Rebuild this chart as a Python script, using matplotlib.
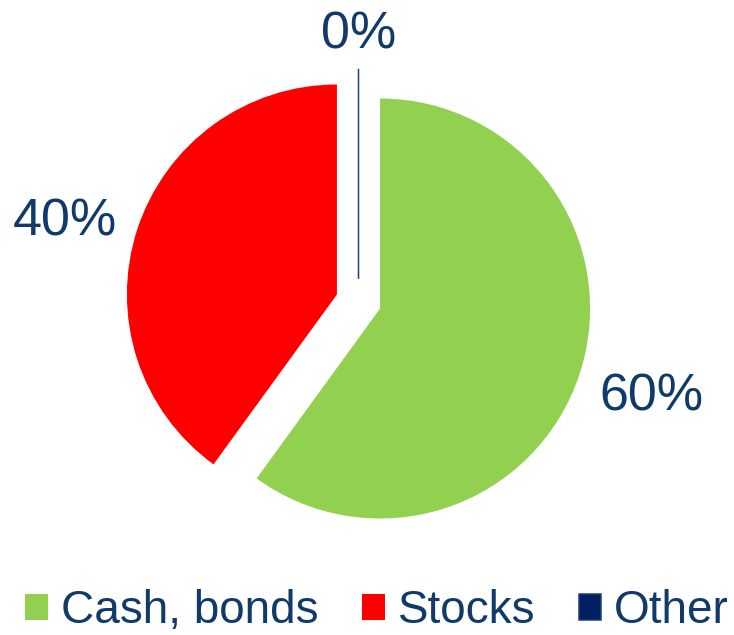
import numpy as np
import matplotlib.pyplot as plt

plt.rcParams['font.family'] = ['Liberation Sans', 'DejaVu Sans']

# data
categories = ['Cash, bonds', 'Stocks', 'Other']
shares = [60, 40, 0]
colors = ['#92D050', '#FF0000', '#002060']
label_color = '#0F3A6A'

W, H = 734, 635
fig = plt.figure(figsize=(W / 100, H / 100), dpi=100)
ax = fig.add_axes([0, 0, 1, 1])

wedges, texts, autotexts = ax.pie(
    shares, colors=colors, startangle=90, counterclock=False,
    explode=[0.108] * 3, autopct='%.0f%%', pctdistance=1.36,
    wedgeprops=dict(linewidth=0),
    textprops=dict(color=label_color, fontsize=37.5))

# the 0% slice shows only as a thin line
wedges[2].set_edgecolor('#1F3F80')
wedges[2].set_linewidth(1.1)

# label placement tweaks (distance, angle offset in degrees)
tweaks = [(1.36, 0.0), (1.34, 3.0), (1.16, 0.0)]
for w, t, (d, da) in zip(wedges, autotexts, tweaks):
    cx, cy = w.center
    ang = np.deg2rad((w.theta1 + w.theta2) / 2 + da)
    t.set_position((cx + d * np.cos(ang), cy + d * np.sin(ang)))

# pixel-matched limits: centre at (358.5, 301.5), radius 210 px
r = 210.0
ax.set_aspect('auto')
ax.set_xlim(-358.5 / r, (W - 358.5) / r)
ax.set_ylim(-(H - 301.5) / r, 301.5 / r)
ax.axis('off')

fig.legend(wedges, categories, loc='center', bbox_to_anchor=(377 / W, 24 / H),
           ncol=3, frameon=False, fontsize=33, labelcolor=label_color,
           handlelength=0.5, handleheight=0.5, handletextpad=0.28,
           columnspacing=0.95, borderpad=0, borderaxespad=0)

fig.savefig('out.png', dpi=100)
